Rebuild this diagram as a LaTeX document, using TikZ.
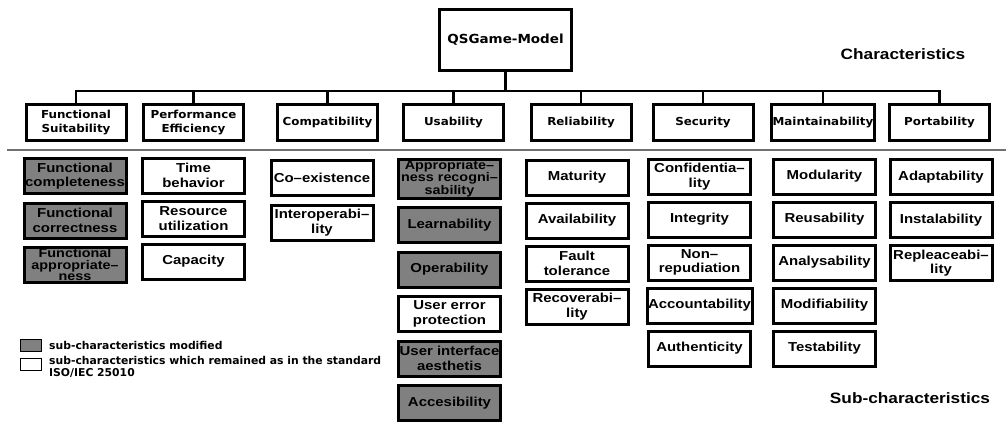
\documentclass[tikz,border=0pt]{standalone}
\usepackage{fontspec}
\usetikzlibrary{positioning}
\newfontfamily\charfont[FakeStretch=1.08]{DejaVu Sans}
\newfontfamily\subfont[FakeStretch=1.15]{Liberation Sans}
\newfontfamily\legfont{DejaVu Sans}
\definecolor{modgray}{RGB}{128,128,128}
\definecolor{rulegray}{RGB}{112,112,112}

\begin{document}
\begin{tikzpicture}[x=1pt,y=-1pt,
    box/.style={draw,line width=3pt,align=center,inner sep=1pt},
    charbox/.style={box,minimum width=100pt,minimum height=36pt,font=\charfont\bfseries\fontsize{11}{13.5}\selectfont},
    subbox/.style={box,minimum width=102pt,minimum height=35pt,font=\subfont\bfseries\fontsize{13}{14.5}\selectfont},
    modified/.style={subbox,fill=modgray},
    tight/.style={font=\subfont\bfseries\fontsize{12.5}{11.5}\selectfont},
    legbox/.style={draw,line width=1pt,minimum width=21pt,minimum height=12pt,inner sep=0pt},
    legtext/.style={inner sep=0pt,font=\legfont\bfseries\fontsize{10.8}{12}\selectfont},
    link/.style={line width=2.6pt},
    node distance=5pt]
  \useasboundingbox (0,0) rectangle (1006,421);
  \fill[white] (0,0) rectangle (1006,421);

  % model and characteristics
  \node[box,minimum width=132pt,minimum height=61pt,font=\charfont\bfseries\fontsize{12.5}{15}\selectfont] (root) at (505.5,40) {QSGame-Model};
  \node[charbox] (funcsuit) at (76,122.5) {Functional\\Suitability};
  \node[charbox] (perfeff) at (193.5,122.5) {Performance\\Efficiency};
  \node[charbox] (compat) at (327.5,122.5) {Compatibility};
  \node[charbox] (usab) at (453.5,122.5) {Usability};
  \node[charbox] (relia) at (581,122.5) {Reliability};
  \node[charbox] (secur) at (703,122.5) {Security};
  \node[charbox] (maint) at (823,122.5) {Maintainability};
  \node[charbox] (port) at (939.5,122.5) {Portability};

  \coordinate (bus) at (505.5,91);
  \draw[link] (root.south) -- (bus);
  \draw[link] (funcsuit.north) |- (bus) -| (port.north);
  \draw[link] (perfeff.north) -- (perfeff.north |- bus);
  \draw[link] (compat.north) -- (compat.north |- bus);
  \draw[link] (usab.north) -- (usab.north |- bus);
  \draw[link] (relia.north) -- (relia.north |- bus);
  \draw[link] (secur.north) -- (secur.north |- bus);
  \draw[link] (maint.north) -- (maint.north |- bus);

  \node[font=\subfont\bfseries\fontsize{15}{18}\selectfont] (charlabel) at (903,54) {Characteristics};
  \draw[rulegray,line width=2pt] (7,150) -- (1006,150);

  % sub-characteristics
  \node[modified] (funccompl) at (75,176) {Functional\\completeness};
  \node[modified,below=6.5pt of funccompl] (funccorr) {Functional\\correctness};
  \node[modified,tight,below=6.5pt of funccorr] (funcappr) {Functional\\appropriate–\\ness};

  \node[subbox] (timebeh) at (193.5,175.5) {Time\\behavior};
  \node[subbox,below=of timebeh] (resutil) {Resource\\utilization};
  \node[subbox,below=of resutil] (capac) {Capacity};

  \node[subbox] (coexist) at (322,178) {Co–existence};
  \node[subbox,below=6.5pt of coexist] (interop) {Interoperabi–\\lity};

  \node[modified,tight] (approp) at (449.5,178.5) {Appropriate–\\ness recogni–\\sability};
  \node[modified,below=6.5pt of approp] (learn) {Learnability};
  \node[modified,below=6.5pt of learn] (operab) {Operability};
  \node[subbox,below=6.5pt of operab] (usererr) {User error\\protection};
  \node[modified,below=6.5pt of usererr] (uiaesth) {User interface\\aesthetis};
  \node[modified,below=6.5pt of uiaesth] (access) {Accesibility};

  \node[subbox] (matur) at (577,177.5) {Maturity};
  \node[subbox,below=of matur] (avail) {Availability};
  \node[subbox,below=of avail] (faulttol) {Fault\\tolerance};
  \node[subbox,below=of faulttol] (recov) {Recoverabi–\\lity};

  \node[subbox] (confid) at (699.5,176.5) {Confidentia–\\lity};
  \node[subbox,below=of confid] (integ) {Integrity};
  \node[subbox,below=of integ] (nonrep) {Non–\\repudiation};
  \node[subbox,below=of nonrep] (account) {Accountability};
  \node[subbox,below=of account] (authent) {Authenticity};

  \node[subbox] (modul) at (824.5,176.5) {Modularity};
  \node[subbox,below=of modul] (reus) {Reusability};
  \node[subbox,below=of reus] (analys) {Analysability};
  \node[subbox,below=of analys] (modif) {Modifiability};
  \node[subbox,below=of modif] (testab) {Testability};

  \node[subbox] (adapt) at (941,177) {Adaptability};
  \node[subbox,below=of adapt] (instal) {Instalability};
  \node[subbox,below=of instal] (replace) {Repleaceabi–\\lity};

  \node[font=\subfont\bfseries\fontsize{15}{18}\selectfont] (sublabel) at (910,398) {Sub-characteristics};

  % legend
  \node[legbox,fill=modgray] (legmod) at (31,345.5) {};
  \node[legbox,fill=white] (legstd) at (31,364.5) {};
  \node[legtext,right=7pt of legmod] (legmodtext) {sub-characteristics modified};
  \node[legtext,anchor=north west,align=left] (legstdtext) at ([xshift=7pt,yshift=1.5pt]legstd.north east) {sub-characteristics which remained as in the standard\\ISO/IEC 25010};
\end{tikzpicture}
\end{document}
